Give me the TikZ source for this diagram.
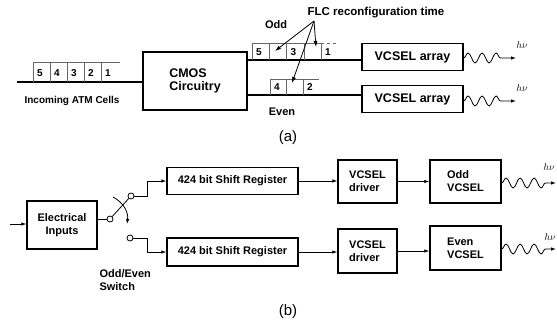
\documentclass[tikz,border=0pt]{standalone}
\usepackage{fontspec}
\setmainfont{Liberation Sans}
\usetikzlibrary{arrows.meta, positioning, decorations.pathmorphing}

\begin{document}
\begin{tikzpicture}[x=1pt, y=-1pt,
    font=\bfseries\fontsize{11}{13}\selectfont,
    blk/.style={rectangle, draw, line width=1.4pt, inner sep=2pt},
    big/.style={font=\bfseries\fontsize{12.5}{13}\selectfont},
    bus/.style={line width=1.6pt},
    cell/.style={draw=black!60, line width=0.5pt},
    digit/.style={font=\bfseries\fontsize{10}{11}\selectfont, inner sep=0pt},
    wire/.style={line width=0.8pt, -{Latex[length=5pt, width=3.5pt]}},
    flcarrow/.style={line width=0.8pt, -{Latex[length=6pt, width=4pt]}},
    light/.style={decorate, decoration={snake, segment length=14pt, amplitude=5pt, post length=9pt},
        line width=0.8pt, -{Latex[length=5pt, width=3.5pt]}},
    pin/.style={circle, draw, line width=0.8pt, fill=white, inner sep=0pt, minimum size=6pt},
    photon/.style={font=\normalfont\normalsize},
    caption/.style={font=\normalfont\fontsize{15}{16}\selectfont},
]
    \useasboundingbox (0,0) rectangle (557,326);

    % (a) optical cell router
    \node[blk, big, minimum width=104pt, minimum height=58pt, align=left] (cmos) at (195,81) {CMOS\\Circuitry};
    \node[blk, big, minimum width=101pt, minimum height=27pt] (arrOdd) at (412.5,57) {VCSEL array};
    \node[blk, big, minimum width=101pt, minimum height=27pt] (arrEven) at (412.5,99) {VCSEL array};
    \coordinate (inc) at (17,82);
    \coordinate (oddrow) at (250,60);
    \coordinate (evenrow) at (250,95);
    \draw[bus] (inc) -- (cmos.west |- inc);
    \draw[bus] (cmos.east |- oddrow) -- (arrOdd.west |- oddrow);
    \draw[bus] (cmos.east |- evenrow) -- (arrEven.west |- evenrow);

    % Incoming cells
    \foreach \n [count=\i from 0] in {5,4,3,2,1} {
        \draw[cell] (33+17*\i,82) -- ++(0,-20);
        \node[digit] (in\n) at (40+17*\i,73) {\n};
    }
    \draw[cell] (33,62) -- (120,62);
    % Odd cells
    \foreach \n [count=\i from 0] in {5,{},3,{},1} {
        \draw[cell] (252+17.25*\i,60) -- ++(0,-17);
        \node[digit] (odd\i) at (259+17.25*\i,52) {\n};
    }
    \draw[cell] (252,43) -- (321,43);
    \draw[cell, dashed] (321,43) -- (339,43);
    % Even cells
    \foreach \n [count=\i from 0] in {4,{},2} {
        \draw[cell] (270+16.5*\i,95) -- ++(0,-16);
        \node[digit] (even\i) at (277+16.5*\i,87) {\n};
    }
    \draw[cell] (270,79) -- (319,79);

    % FLC arrows
    \node[font=\bfseries\fontsize{11.5}{13}\selectfont] (flc) at (376,13) {FLC reconfiguration time};
    \coordinate (apex) at (314,21);
    \coordinate (gapA) at (275,51);
    \coordinate (gapB) at (316,47);
    \coordinate (gapC) at (292,83);
    \draw[flcarrow] (apex) -- (gapA);
    \draw[flcarrow] (apex) -- (gapB);
    \draw[flcarrow] (apex) -- (gapC);

    % Labels
    \node (oddlbl) at (276,25) {Odd};
    \node (evenlbl) at (282,112) {Even};
    \node[font=\bfseries\fontsize{10}{11}\selectfont] (inclbl) at (72,101) {Incoming ATM Cells};
    \coordinate (outOdd) at (516,58);
    \coordinate (outEven) at (516,101);
    \draw[light] (arrOdd.east |- outOdd) -- (outOdd);
    \draw[light] (arrEven.east |- outEven) -- (outEven);
    \node[photon] (hvOdd) at (522,45) {$h\nu$};
    \node[photon] (hvEven) at (522,88) {$h\nu$};
    \node[caption] (capA) at (288,138) {(a)};

    % (b) electrical inputs
    \node[blk, minimum width=70pt, minimum height=48pt, align=center] (elec) at (62,225) {Electrical\\Inputs};
    \coordinate (src) at (10,224);
    \draw[wire] (src) -- (elec.west |- src);
    \node[pin] (swIn) at (110,219) {};
    \node[pin] (swOdd) at (131,196) {};
    \node[pin] (swEven) at (130,238) {};
    \draw[line width=0.8pt] (elec.east |- swIn) -- (swIn);
    \draw[line width=0.8pt] (swIn) -- (swOdd);
    \coordinate (turnA) at (113,197);
    \coordinate (turnB) at (127,224);
    \draw[wire] (turnA) to[bend left=35] (turnB);
    \node[anchor=north west, align=left] (swlbl) at (96,266) {Odd/Even\\Switch};

    \node[blk, minimum width=131pt, minimum height=27pt] (srOdd) at (232.5,181) {424 bit Shift Register};
    \node[blk, minimum width=131pt, minimum height=28pt] (srEven) at (232.5,252) {424 bit Shift Register};
    \node[blk, minimum width=59pt, minimum height=43pt, align=left] (drvOdd) at (367.5,181.5) {VCSEL\\driver};
    \node[blk, minimum width=59pt, minimum height=44pt, align=left] (drvEven) at (367.5,251) {VCSEL\\driver};
    \node[blk, minimum width=71pt, minimum height=43pt, align=left] (vcOdd) at (465.5,181.5) {Odd\\VCSEL};
    \node[blk, minimum width=71pt, minimum height=44pt, align=left] (vcEven) at (465.5,248) {Even\\VCSEL};

    \draw[wire] (swOdd.east) -- ++(13,0) |- (srOdd.west);
    \draw[wire] (swEven.east) -- ++(14,0) |- (srEven.west);
    \draw[wire] (srOdd.east) -- (drvOdd.west |- srOdd.east);
    \draw[wire] (srEven.east) -- (drvEven.west |- srEven.east);
    \draw[wire] (drvOdd.east) -- (vcOdd.west |- drvOdd.east);
    \draw[wire] (drvEven.east) -- (vcEven.west |- drvEven.east);

    \coordinate (lightOdd) at (556,183);
    \coordinate (lightEven) at (556,249);
    \draw[light] (vcOdd.east |- lightOdd) -- (lightOdd);
    \draw[light] (vcEven.east |- lightEven) -- (lightEven);
    \node[photon] (hvB1) at (549,167) {$h\nu$};
    \node[photon] (hvB2) at (550,237) {$h\nu$};
    \node[caption] (capB) at (288,312) {(b)};
\end{tikzpicture}
\end{document}
